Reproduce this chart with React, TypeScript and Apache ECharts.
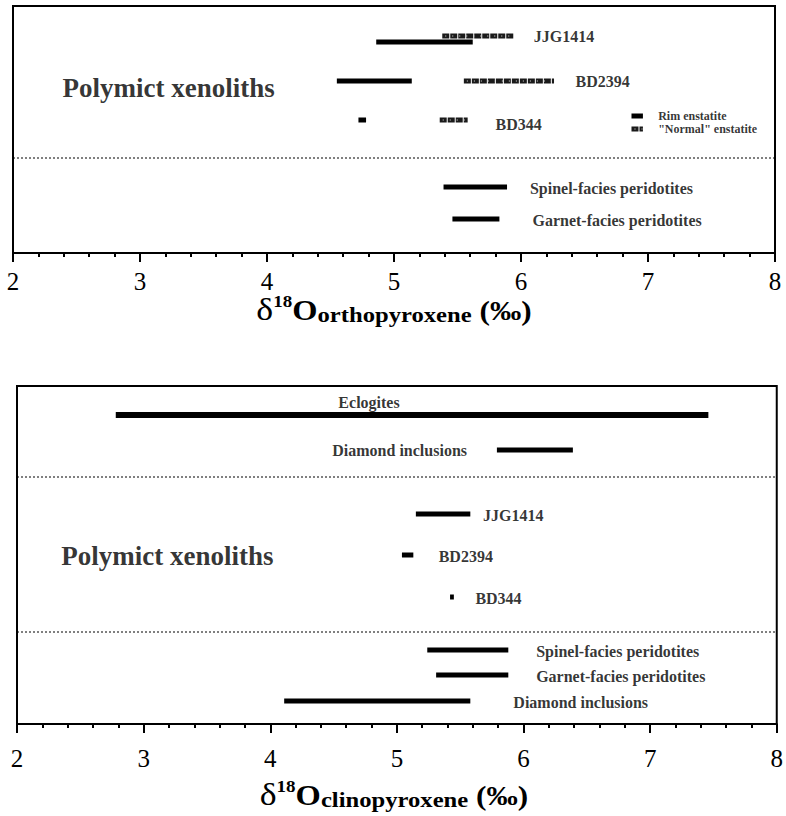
import React, { useEffect, useRef } from "react";
import * as echarts from "echarts";

// ---------- DATA (δ18O, ‰) ----------
// Orthopyroxene panel
const opxSamples = ["JJG1414", "BD2394", "BD344"];
const opxRimLow = [4.86, 4.55, 4.72];
const opxRimHigh = [5.62, 5.14, 4.78];
const opxNormalLow = [5.38, 5.55, 5.36];
const opxNormalHigh = [5.94, 6.26, 5.58];
const opxPeridotites = ["Spinel-facies peridotites", "Garnet-facies peridotites"];
const opxPeridLow = [5.39, 5.46];
const opxPeridHigh = [5.89, 5.83];
const opxLegend = ["Rim enstatite", "\"Normal\" enstatite"];

// Clinopyroxene panel
const cpxUpper = ["Eclogites", "Diamond inclusions"];
const cpxUpperLow = [2.78, 5.79];
const cpxUpperHigh = [7.46, 6.39];
const cpxSamples = ["JJG1414", "BD2394", "BD344"];
const cpxSampleLow = [5.15, 5.04, 5.42];
const cpxSampleHigh = [5.58, 5.13, 5.45];
const cpxLower = ["Spinel-facies peridotites", "Garnet-facies peridotites", "Diamond inclusions"];
const cpxLowerLow = [5.24, 5.31, 4.11];
const cpxLowerHigh = [5.88, 5.88, 5.58];

const groupLabel = "Polymict xenoliths";
const xTicks = [2, 3, 4, 5, 6, 7, 8];

// ---------- LAYOUT (row levels in px from panel top) ----------
const TOP = { left: 13, top: 6, width: 762, height: 247 };
const BOT = { left: 17, top: 386, width: 761, height: 338 };

const opxRimRows = [36, 75, 114];
const opxNormalRows = [30, 75, 114];
const opxSampleLabelX = [6.1, 6.43, 5.8];
const opxSampleLabelRows = [30, 75, 118];
const opxPeridRows = [181, 213];
const opxPeridLabelX = [6.07, 6.09];
const opxDivider = 152;
const opxGroupPos = [2.39, 82];
const opxLegendX = [6.87, 6.96, 7.08];
const opxLegendRows = [110, 123];

const cpxUpperRows = [29, 64];
const cpxUpperLabelPos = [[4.78, 16, "center"], [4.49, 64, "right"]];
const cpxDividers = [91, 246];
const cpxSampleRows = [128, 169, 211];
const cpxSampleLabelX = [5.68, 5.33, 5.62];
const cpxGroupPos = [2.35, 170];
const cpxLowerRows = [264, 289, 315];
const cpxLowerLabelX = [6.1, 6.1, 5.92];

const FONT = "'Liberation Serif', 'Times New Roman', 'DejaVu Serif', serif";

// kind: 0 solid, 1 "normal" patterned, 2 dotted divider
function renderBar(params: any, api: any) {
  const lo = api.value(0);
  const hi = api.value(1);
  const row = api.value(2);
  const kind = api.value(3);
  const w = api.value(4);
  const p1 = api.coord([lo, row]);
  const p2 = api.coord([hi, row]);
  const shape = { x1: p1[0], y1: p1[1], x2: p2[0], y2: p2[1] };
  if (kind === 0) {
    return { type: "line", shape, style: { stroke: "#000", lineWidth: w } };
  }
  if (kind === 1) {
    return {
      type: "group",
      children: [
        { type: "line", shape, style: { stroke: "#1a1a1a", lineWidth: w, lineDash: [7, 1] } },
        { type: "line", shape: { ...shape, x1: shape.x1 + 3 }, style: { stroke: "#e0e0e0", lineWidth: 1, lineDash: [1, 6] } },
      ],
    };
  }
  return { type: "line", shape, style: { stroke: "#000", lineWidth: w, lineDash: [2, 2] } };
}

function labelItem(name: string, x: number, row: number, size: number, pos: string = "right") {
  return {
    name,
    value: [x, row],
    label: {
      show: true,
      position: pos === "center" ? "inside" : "right",
      distance: 0,
      formatter: "{b}",
      fontFamily: FONT,
      fontWeight: "bold",
      fontSize: size,
      color: "#000",
      textBorderWidth: 0,
    },
  };
}

function titleGraphic(sub: string, y: number) {
  return {
    type: "text",
    x: 394,
    y,
    scaleX: 1.12,
    style: {
      text: `{d|δ}{s|18}{o|O}{sub|${sub}}{p| (‰)}`,
      align: "center",
      verticalAlign: "middle",
      fill: "#000",
      rich: {
        d: { fontFamily: FONT, fontSize: 32, fontWeight: "normal", verticalAlign: "bottom", fill: "#000" },
        s: { fontFamily: FONT, fontSize: 17, fontWeight: "bold", verticalAlign: "top", fill: "#000" },
        o: { fontFamily: FONT, fontSize: 29, fontWeight: "bold", verticalAlign: "bottom", fill: "#000" },
        sub: { fontFamily: FONT, fontSize: 22, fontWeight: "bold", verticalAlign: "bottom", fill: "#000" },
        p: { fontFamily: FONT, fontSize: 28, fontWeight: "bold", verticalAlign: "bottom", fill: "#000" },
      },
    },
  };
}

export default function App() {
  const ref = useRef<HTMLDivElement>(null);
  useEffect(() => {
    document.body.style.margin = "0";
    if (!ref.current) return;
    const chart = echarts.init(ref.current, undefined, { renderer: "svg" });

    const opxBars: any[] = [];
    opxSamples.forEach((_, i) => {
      opxBars.push([opxRimLow[i], opxRimHigh[i], opxRimRows[i], 0, 5]);
      opxBars.push([opxNormalLow[i], opxNormalHigh[i], opxNormalRows[i], 1, 5]);
    });
    opxPeridotites.forEach((_, i) => opxBars.push([opxPeridLow[i], opxPeridHigh[i], opxPeridRows[i], 0, 5]));
    opxBars.push([xTicks[0], xTicks[xTicks.length - 1], opxDivider, 2, 1]);
    opxBars.push([opxLegendX[0], opxLegendX[1], opxLegendRows[0], 0, 5]);
    opxBars.push([opxLegendX[0], opxLegendX[1], opxLegendRows[1], 1, 5]);

    const opxLabels: any[] = [];
    opxSamples.forEach((s, i) => opxLabels.push(labelItem(s, opxSampleLabelX[i], opxSampleLabelRows[i], 16)));
    opxPeridotites.forEach((s, i) => opxLabels.push(labelItem(s, opxPeridLabelX[i], opxPeridRows[i] + 1, 16)));
    opxLabels.push(labelItem(groupLabel, opxGroupPos[0], opxGroupPos[1], 27));
    opxLegend.forEach((s, i) => opxLabels.push(labelItem(s, opxLegendX[2], opxLegendRows[i], 12)));

    const cpxBars: any[] = [];
    cpxUpper.forEach((_, i) => cpxBars.push([cpxUpperLow[i], cpxUpperHigh[i], cpxUpperRows[i], 0, i === 0 ? 6 : 5]));
    cpxSamples.forEach((_, i) => cpxBars.push([cpxSampleLow[i], cpxSampleHigh[i], cpxSampleRows[i], 0, 5]));
    cpxLower.forEach((_, i) => cpxBars.push([cpxLowerLow[i], cpxLowerHigh[i], cpxLowerRows[i], 0, 5]));
    cpxDividers.forEach((r) => cpxBars.push([xTicks[0], xTicks[xTicks.length - 1], r, 2, 1]));

    const cpxLabels: any[] = [];
    cpxUpper.forEach((s, i) =>
      cpxLabels.push(labelItem(s, cpxUpperLabelPos[i][0] as number, cpxUpperLabelPos[i][1] as number, 16, cpxUpperLabelPos[i][2] as string))
    );
    cpxSamples.forEach((s, i) => cpxLabels.push(labelItem(s, cpxSampleLabelX[i], cpxSampleRows[i] + 1, 16)));
    cpxLabels.push(labelItem(groupLabel, cpxGroupPos[0], cpxGroupPos[1], 27));
    cpxLower.forEach((s, i) => cpxLabels.push(labelItem(s, cpxLowerLabelX[i], cpxLowerRows[i] + 1, 16)));

    const xAxis = [0, 1].map((i) => ({
      gridIndex: i,
      type: "value",
      min: xTicks[0],
      max: xTicks[xTicks.length - 1],
      interval: 1,
      axisLine: { show: true, onZero: false, lineStyle: { color: "#000", width: 2 } },
      axisTick: { show: true, inside: false, length: 9, lineStyle: { color: "#000", width: 2 } },
      minorTick: { show: true, splitNumber: 5, length: 4, lineStyle: { color: "#000", width: 2 } },
      splitLine: { show: false },
      minorSplitLine: { show: false },
      axisLabel: { margin: i === 0 ? 16 : 22, fontSize: 25, fontFamily: FONT, color: "#000" },
    }));

    const option: any = {
      animation: false,
      textStyle: { fontFamily: FONT },
      grid: [
        { ...TOP, show: true, borderColor: "#000", borderWidth: 2 },
        { ...BOT, show: true, borderColor: "#000", borderWidth: 2 },
      ],
      xAxis,
      yAxis: [
        { gridIndex: 0, type: "value", min: 0, max: TOP.height, inverse: true, show: false },
        { gridIndex: 1, type: "value", min: 0, max: BOT.height, inverse: true, show: false },
      ],
      series: [
        { type: "custom", xAxisIndex: 0, yAxisIndex: 0, renderItem: renderBar, data: opxBars, encode: { x: [0, 1], y: 2 }, silent: true },
        { type: "scatter", xAxisIndex: 0, yAxisIndex: 0, symbolSize: 0, data: opxLabels, silent: true },
        { type: "custom", xAxisIndex: 1, yAxisIndex: 1, renderItem: renderBar, data: cpxBars, encode: { x: [0, 1], y: 2 }, silent: true },
        { type: "scatter", xAxisIndex: 1, yAxisIndex: 1, symbolSize: 0, data: cpxLabels, silent: true },
      ],
      graphic: [titleGraphic("orthopyroxene", 309), titleGraphic("clinopyroxene", 794)],
    };
    chart.setOption(option);
    return () => chart.dispose();
  }, []);
  return <div ref={ref} style={{ width: 786, height: 816 }} />;
}
